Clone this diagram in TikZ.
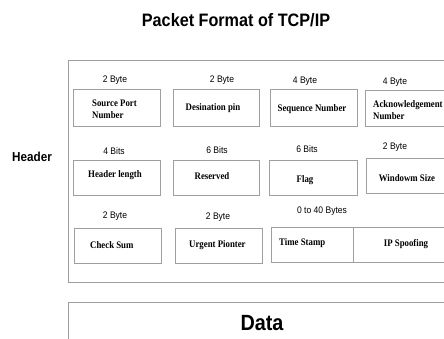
\documentclass[tikz,border=0pt]{standalone}
\usepackage{fontspec}
\newfontfamily\labelfont[FakeStretch=0.9]{Liberation Sans}
\newfontfamily\fieldfont[FakeStretch=0.88]{Liberation Serif}
\tikzset{
  frame/.style={draw=gray!75,line width=1pt},
  field/.style={draw=gray!75,line width=0.9pt},
  size/.style={font=\labelfont\fontsize{9.5}{11}\selectfont,inner sep=0pt},
  fname/.style={font=\fieldfont\bfseries\fontsize{10}{12}\selectfont,inner sep=0pt},
}
\begin{document}
\begin{tikzpicture}[x=1pt,y=-1pt]
\useasboundingbox (0,0) rectangle (444,338);
\clip (0,0) rectangle (444,338);
\node[font=\labelfont\bfseries\fontsize{18}{20}\selectfont] (title) at (236,20) {Packet Format of TCP/IP};
\node[font=\labelfont\bfseries\fontsize{13}{15}\selectfont] (header) at (32,157) {Header};
% header frame and data frame
\draw[frame] (68,60) rectangle (470,282);
\draw[frame] (68,302) rectangle (470,360);
\node[font=\labelfont\bfseries\fontsize{22}{24}\selectfont] (data) at (262,323) {Data};
% fields
\draw[field] (73,89) rectangle (160,126);
\draw[field] (173,89) rectangle (259,126);
\draw[field] (270,89) rectangle (357,126);
\draw[field] (365,90) rectangle (460,126);
\draw[field] (73,160) rectangle (160,195);
\draw[field] (173,160) rectangle (259,195);
\draw[field] (269,160) rectangle (357,195);
\draw[field] (366,158) rectangle (460,193);
\draw[field] (74,228) rectangle (161,263);
\draw[field] (175,228) rectangle (262,263);
\draw[field] (271,227) rectangle (460,262);
\draw[field] (353,227) -- (353,262);
% sizes
\node[size] (s1) at (115,80) {2 Byte};
\node[size] (s2) at (222,80) {2 Byte};
\node[size] (s3) at (305,81) {4 Byte};
\node[size] (s4) at (395,82) {4 Byte};
\node[size] (s5) at (114,151) {4 Bits};
\node[size] (s6) at (217,150) {6 Bits};
\node[size] (s7) at (307,149) {6 Bits};
\node[size] (s8) at (395,147) {2 Byte};
\node[size] (s9) at (115,216) {2 Byte};
\node[size] (s10) at (218,217) {2 Byte};
\node[size] (s11) at (322,211) {0 to 40 Bytes};
% names
\node[fname,anchor=west,align=left] (srcport) at (92,109) {Source Port\\Number};
\node[fname] (dstport) at (213,108) {Desination pin};
\node[fname] (seqno) at (312,109) {Sequence Number};
\node[fname,anchor=west,align=left] (ackno) at (373,110) {Acknowledgement\\Number};
\node[fname] (hlen) at (115,175) {Header length};
\node[fname] (resv) at (212,176) {Reserved};
\node[fname] (flag) at (305,180) {Flag};
\node[fname] (window) at (407,178) {Windowm Size};
\node[fname,anchor=west] (checksum) at (90,245) {Check Sum};
\node[fname,anchor=west] (urgent) at (189,245) {Urgent Pionter};
\node[fname,anchor=west] (tstamp) at (279,243) {Time Stamp};
\node[fname] (spoof) at (406,244) {IP Spoofing};
\end{tikzpicture}
\end{document}
